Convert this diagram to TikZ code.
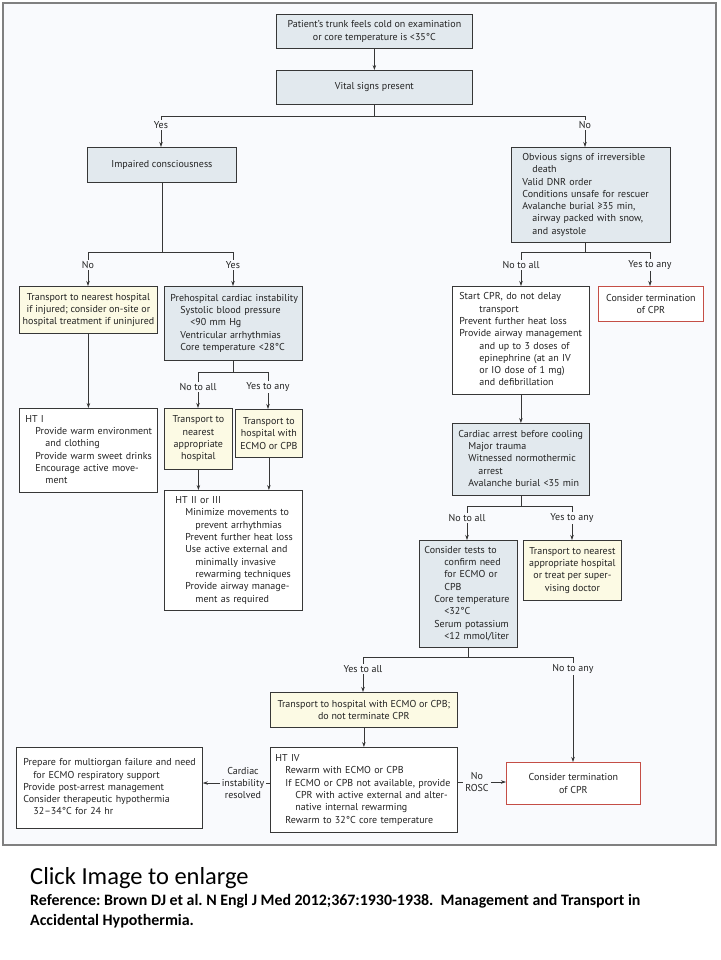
\documentclass[tikz,border=0pt]{standalone}
\usepackage{fontspec}
\setmainfont{PT Sans}
\newfontfamily\capfont{Carlito}
\usetikzlibrary{arrows.meta}

\definecolor{boxline}{RGB}{55,55,55}
\definecolor{decfill}{RGB}{226,233,238}
\definecolor{actfill}{RGB}{252,250,228}
\definecolor{stopred}{RGB}{196,78,70}
\definecolor{framefill}{RGB}{249,250,253}
\definecolor{framegray}{RGB}{128,128,128}
\definecolor{ink}{RGB}{35,35,35}

\newcommand{\indA}{\hspace*{10pt}}
\newcommand{\indB}{\hspace*{20pt}}
\newcommand{\lns}[1]{\begin{tabular}{@{}l@{}}#1\end{tabular}}

\tikzset{
  basebox/.style={draw=boxline, line width=0.8pt, text=ink, anchor=north west, inner ysep=2pt, font=\fontsize{10}{12.3}\selectfont},
  decbox/.style={basebox, fill=decfill},
  actbox/.style={basebox, fill=actfill, align=center},
  notebox/.style={basebox, fill=white},
  stopbox/.style={basebox, draw=stopred, fill=white, align=center},
  wh/.style 2 args={minimum width=#1pt, minimum height=#2pt},
  sz/.style n args={4}{minimum width=#1pt, minimum height=#2pt, inner xsep=#3pt, text width=#4pt, align=left},
  lbl/.style={text=ink, inner xsep=2pt, inner ysep=1.5pt, font=\fontsize{10}{12.3}\selectfont, align=center},
  conn/.style={draw=boxline, line width=0.7pt},
  arr/.style={conn, -{Stealth[length=5pt, width=3.5pt]}},
  caption/.style={anchor=base west, inner sep=0pt, font=\capfont\frenchspacing\bfseries\fontsize{15.9}{18}\selectfont}
}

\begin{document}
\begin{tikzpicture}[x=1pt, y=-1pt]
\fill[white] (0,0) rectangle (720,960);
\useasboundingbox (0,0) rectangle (720,960);
\draw[framegray, line width=1.2pt, fill=framefill] (3,3) rectangle (716,845);

% Laatikot
\node[decbox, wh={196}{34}, align=center] (cold) at (276,14) {Patient’s trunk feels cold on examination\\or core temperature is <35°C};
\node[decbox, wh={196}{34}] (vital) at (276,70) {Vital signs present};
\node[decbox, wh={149}{35}] (imp) at (87,147) {Impaired consciousness};
\node[decbox, sz={159}{95}{11}{137}] (obv) at (511,147) {\lns{Obvious signs of irreversible\\\indA death\\Valid DNR order\\Conditions unsafe for rescuer\\Avalanche burial ≥35 min,\\\indA airway packed with snow,\\\indA and asystole}};
\node[actbox, wh={138}{47}] (nearhosp) at (19,286) {Transport to nearest hospital\\if injured; consider on-site or\\hospital treatment if uninjured};
\node[decbox, sz={138}{74}{6}{126}] (prehosp) at (164,286) {\lns{Prehospital cardiac instability\\\indA Systolic blood pressure\\\indB <90 mm Hg\\\indA Ventricular arrhythmias\\\indA Core temperature <28°C}};
\node[notebox, sz={137}{108}{7}{123}] (cpr) at (452,286) {\lns{Start CPR, do not delay\\\indB transport\\Prevent further heat loss\\Provide airway management\\\indB and up to 3 doses of\\\indB epinephrine (at an IV\\\indB or IO dose of 1 mg)\\\indB and defibrillation}};
\node[stopbox, wh={105}{35}] (termA) at (598,286) {Consider termination\\of CPR};
\node[notebox, sz={138}{84}{6}{126}] (htone) at (19,408) {\lns{HT I\\\indA Provide warm environment\\\indB and clothing\\\indA Provide warm sweet drinks\\\indA Encourage active move-\\\indB ment}};
\node[actbox, wh={68}{61}, inner xsep=2pt] (apphosp) at (164,408) {Transport to\\nearest\\appropriate\\hospital};
\node[actbox, wh={67}{48}, inner xsep=2pt] (ecmohosp) at (235,409) {Transport to\\hospital with\\ECMO or CPB};
\node[notebox, sz={138}{120}{11}{116}] (httwo) at (164,490) {\lns{HT II or III\\\indA Minimize movements to\\\indB prevent arrhythmias\\\indA Prevent further heat loss\\\indA Use active external and\\\indB minimally invasive\\\indB rewarming techniques\\\indA Provide airway manage-\\\indB ment as required}};
\node[decbox, sz={137}{72}{6}{125}] (arrest) at (452,423) {\lns{Cardiac arrest before cooling\\\indA Major trauma\\\indA Witnessed normothermic\\\indB arrest\\\indA Avalanche burial <35 min}};
\node[decbox, sz={98}{107}{5}{88}] (tests) at (419,540) {\lns{Consider tests to\\\indB confirm need\\\indB for ECMO or\\\indB CPB\\\indA Core temperature\\\indB <32°C\\\indA Serum potassium\\\indB <12 mmol/liter}};
\node[actbox, wh={98}{60}] (supervise) at (523,540) {Transport to nearest\\appropriate hospital\\or treat per super-\\vising doctor};
\node[actbox, wh={187}{35}] (ecmo) at (270,692) {Transport to hospital with ECMO or CPB;\\do not terminate CPR};
\node[notebox, sz={187}{85}{5}{177}] (htfour) at (270,747) {\lns{HT IV\\\indA Rewarm with ECMO or CPB\\\indA If ECMO or CPB not available, provide\\\indB CPR with active external and alter-\\\indB native internal rewarming\\\indA Rewarm to 32°C core temperature}};
\node[stopbox, wh={134}{42}] (termB) at (506,762) {Consider termination\\of CPR};
\node[notebox, sz={186}{81}{7}{172}] (organ) at (16,747) {\lns{Prepare for multiorgan failure and need\\\indA for ECMO respiratory support\\Provide post-arrest management\\Consider therapeutic hypothermia\\\indA 32–34°C for 24 hr}};

% Haarojen tekstit
\node[lbl] (yesA) at (161,125) {Yes};
\node[lbl] (noA) at (585,125) {No};
\node[lbl] (noB) at (88,265) {No};
\node[lbl] (yesB) at (233,265) {Yes};
\node[lbl] (noallA) at (521,265) {No to all};
\node[lbl] (yesanyA) at (650,265) {Yes to any};
\node[lbl] (noallB) at (198,387) {No to all};
\node[lbl] (yesanyB) at (268,387) {Yes to any};
\node[lbl] (noallC) at (467,518) {No to all};
\node[lbl] (yesanyC) at (572,518) {Yes to any};
\node[lbl] (yesall) at (363,669) {Yes to all};
\node[lbl] (noany) at (573,669) {No to any};
\node[lbl] (rosc) at (477,782) {No\\ROSC};
\node[lbl] (resolved) at (243,783) {Cardiac\\instability\\resolved};

% Yhteydet
\draw[arr] (cold) -- (vital);
\draw[conn] (vital.south) -- ++(0,12) coordinate (jA);
\draw[conn] (yesA.north) |- (jA) -| (noA.north);
\draw[arr] (yesA.south) -- (yesA.south |- imp.north);			% Yes
\draw[arr] (noA.south) -- (noA.south |- obv.north);			% No
\draw[conn] (imp.south) -- ++(0,70) coordinate (jB);
\draw[conn] (noB.north) |- (jB) -| (yesB.north);
\draw[arr] (noB.south) -- (noB.south |- nearhosp.north);
\draw[arr] (yesB.south) -- (yesB.south |- prehosp.north);
\draw[conn] (noA |- obv.south) -- ++(0,10) coordinate (jC);
\draw[conn] (noallA.north) |- (jC) -| (yesanyA.north);
\draw[arr] (noallA.south) -- (noallA.south |- cpr.north);
\draw[arr] (yesanyA.south) -- (yesanyA.south |- termA.north);
\draw[arr] (nearhosp) -- (htone);
\draw[conn] (prehosp.south) -- ++(0,12) coordinate (jD);
\draw[conn] (noallB.north) |- (jD) -| (yesanyB.north);
\draw[arr] (noallB.south) -- (noallB.south |- apphosp.north);
\draw[arr] (yesanyB.south) -- (yesanyB.south |- ecmohosp.north);
\draw[arr] (apphosp.south) -- (apphosp.south |- httwo.north);
\draw[arr] (ecmohosp.south) -- (ecmohosp.south |- httwo.north);
\draw[arr] (cpr) -- (arrest);
\draw[conn] (arrest.south) -- ++(0,11) coordinate (jE);
\draw[conn] (noallC.north) |- (jE) -| (yesanyC.north);
\draw[arr] (noallC.south) -- (noallC.south |- tests.north);
\draw[arr] (yesanyC.south) -- (yesanyC.south |- supervise.north);
\draw[conn] (tests.south) -- ++(0,10) coordinate (jF);
\draw[conn] (yesall.north) |- (jF) -| (noany.north);
\draw[arr] (yesall.south) -- (yesall.south |- ecmo.north);
\draw[arr] (noany.south) -- (noany.south |- termB.north);
\draw[arr] (ecmo) -- (htfour);
\draw[conn] (rosc.west -| htfour.east) -- (rosc.west);			% No ROSC
\draw[arr] (rosc.east) -- (rosc.east -| termB.west);
\draw[conn] (resolved.east -| htfour.west) -- (resolved.east);		% resolved
\draw[arr] (resolved.west) -- (resolved.west -| organ.east);

% Kuvateksti
\node[anchor=base west, inner sep=0pt, font=\capfont\fontsize{24.5}{28}\selectfont] (click) at (30,884) {Click Image to enlarge};
\node[caption] (refA) at (30,905) {Reference: Brown DJ et al. N Engl J Med 2012;367:1930-1938.~ Management and Transport in};
\node[caption] (refB) at (30,925) {Accidental Hypothermia.};
\end{tikzpicture}
\end{document}
